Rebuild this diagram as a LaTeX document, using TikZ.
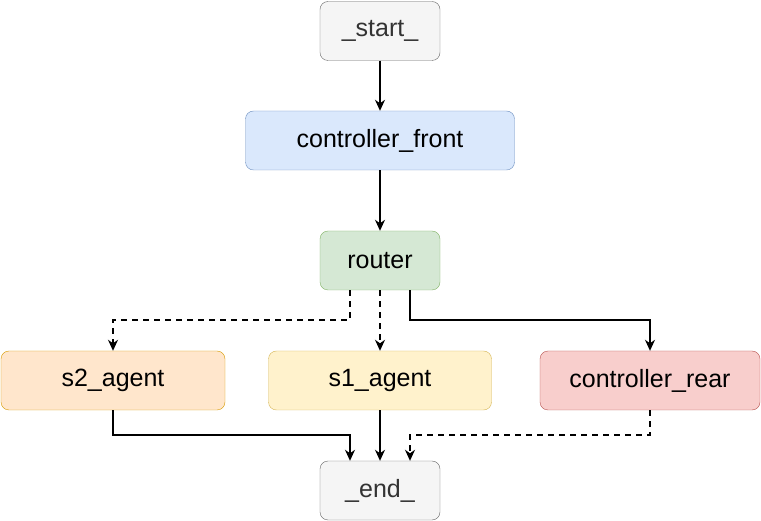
\documentclass[tikz,border=0pt]{standalone}
\usepackage{fontspec}
\setmainfont{Liberation Sans}
\usetikzlibrary{positioning,arrows.meta}
\definecolor{grayfill}{HTML}{F5F5F5}
\definecolor{graydraw}{HTML}{666666}
\definecolor{graytext}{HTML}{333333}
\definecolor{bluefill}{HTML}{DAE8FC}
\definecolor{bluedraw}{HTML}{6C8EBF}
\definecolor{greenfill}{HTML}{D5E8D4}
\definecolor{greendraw}{HTML}{82B366}
\definecolor{orangefill}{HTML}{FFE6CC}
\definecolor{orangedraw}{HTML}{D79B00}
\definecolor{yellowfill}{HTML}{FFF2CC}
\definecolor{yellowdraw}{HTML}{D6B656}
\definecolor{redfill}{HTML}{F8CECC}
\definecolor{reddraw}{HTML}{B85450}
\tikzset{
  box/.style={draw, rounded corners=8pt, minimum height=59pt, font=\fontsize{25}{29}\selectfont, inner sep=0pt},
  ends/.style={box, fill=grayfill, draw=graydraw, text=graytext, minimum width=120pt},
  flow/.style={-{Stealth[length=11pt,width=10pt,inset=3.5pt]}, line width=1.4pt},
  cond/.style={flow, dash pattern=on 6pt off 5pt},
}
\begin{document}
\begin{tikzpicture}[x=1pt,y=-1pt]
			\useasboundingbox (0,0) rectangle (761,521);
			\node[ends] (start) at (380,31) {\_start\_};
			\node[box, fill=bluefill, draw=bluedraw, minimum width=269pt] (front) at (380,140.5) {controller\_front};
			\node[box, fill=greenfill, draw=greendraw, minimum width=120pt] (router) at (380,260.5) {router};
			\node[box, fill=orangefill, draw=orangedraw, minimum width=224pt] (s2) at (113,380.5) {s2\_agent};
			\node[box, fill=yellowfill, draw=yellowdraw, minimum width=223pt] (s1) at (380,380.5) {s1\_agent};
			\node[box, fill=redfill, draw=reddraw, minimum width=220pt] (rear) at (650,380.5) {controller\_rear};
			\node[ends] (end) at (380,490.5) {\_end\_};
			\draw[flow] (start) to (front);
			\draw[flow] (front) to (router);
			\draw[cond] ([xshift=-30pt]router.south) |- (113,320) -- (s2.north);
			\draw[cond] (router) to (s1);
			\draw[flow] ([xshift=30pt]router.south) |- (650,320) -- (rear.north);
			\draw[flow] (s2.south) |- (350,435) -- ([xshift=-30pt]end.north);
			\draw[flow] (s1) to (end);
			\draw[cond] (rear.south) |- (410,435) -- ([xshift=30pt]end.north);
		\end{tikzpicture}
\end{document}
